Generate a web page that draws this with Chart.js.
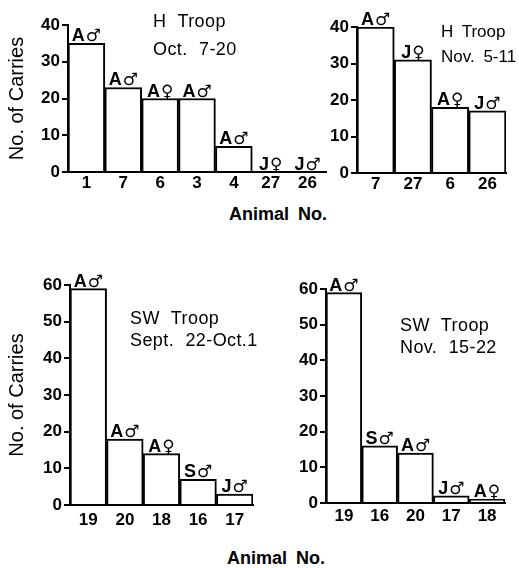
<!DOCTYPE html>
<html><head><meta charset="utf-8">
<script src="https://cdn.jsdelivr.net/npm/chart.js@4.4.1/dist/chart.umd.min.js"></script>
<style>
body{margin:0;background:#fff;width:519px;height:568px;position:relative;overflow:hidden;font-family:"Liberation Sans",Arial,sans-serif;color:#000}
canvas{position:absolute}
.t{position:absolute;font-size:18px;white-space:nowrap;word-spacing:6px;letter-spacing:0.4px}
.ax{position:absolute;font-size:18px;font-weight:bold;line-height:19px;white-space:nowrap;word-spacing:4px}
</style></head><body>
<canvas id="c1" width="340" height="200" style="left:0;top:0"></canvas>
<canvas id="c2" width="199" height="200" style="left:320px;top:0"></canvas>
<canvas id="c3" width="270" height="300" style="left:0;top:240px"></canvas>
<canvas id="c4" width="239" height="300" style="left:280px;top:240px"></canvas>
<div class="t" style="left:153px;top:8px;line-height:27.5px">H Troop<br>Oct. 7-20</div>
<div class="t" style="left:441px;top:19px;line-height:25px;font-size:17px;word-spacing:4px;letter-spacing:0">H Troop<br>Nov. 5-11</div>
<div class="t" style="left:130px;top:307px;line-height:22px">SW Troop<br>Sept. 22-Oct.1</div>
<div class="t" style="left:400px;top:314px;line-height:22px">SW Troop<br>Nov. 15-22</div>
<div class="ax" style="left:229px;top:205px">Animal No.</div>
<div class="ax" style="left:227px;top:549px">Animal No.</div>
<script>
// ---- data ----
const hOctAnimals = ['1','7','6','3','4','27','26'];
const hOctCarries = [35, 23, 20, 20, 7, 0, 0];
const hOctClass   = ['A♂','A♂','A♀','A♂','A♂','J♀','J♂'];

const hNovAnimals = ['7','27','6','26'];
const hNovCarries = [40, 31, 18, 17];
const hNovClass   = ['A♂','J♀','A♀','J♂'];

const swSepAnimals = ['19','20','18','16','17'];
const swSepCarries = [59, 18, 14, 7, 3];
const swSepClass   = ['A♂','A♂','A♀','S♂','J♂'];

const swNovAnimals = ['19','16','20','17','18'];
const swNovCarries = [59, 16, 14, 2, 1];
const swNovClass   = ['A♂','S♂','A♂','J♂','A♀'];

const yTicksH  = [0, 10, 20, 30, 40];
const yTicksSW = [0, 10, 20, 30, 40, 50, 60];
const yTitle = 'No. of Carries';
// --------------

const FONT = '"Liberation Sans", Arial, sans-serif';
const SYMFONT = '"DejaVu Sans", sans-serif';

const barLabels = {
  id: 'barLabels',
  afterDatasetsDraw(chart) {
    const labels = chart.options.plugins.barLabels.labels;
    const ctx = chart.ctx;
    const meta = chart.getDatasetMeta(0);
    ctx.save();
    ctx.fillStyle = '#000';
    ctx.textAlign = 'left';
    ctx.textBaseline = 'alphabetic';
    const fL = 'bold 18px ' + FONT, fS = '17px ' + SYMFONT;
    meta.data.forEach((bar, i) => {
      const letter = labels[i].slice(0, 1), sym = labels[i].slice(1);
      ctx.font = fL; const wL = ctx.measureText(letter).width;
      ctx.font = fS; const wS = ctx.measureText(sym).width;
      const gap = 1;
      let x = bar.x - (wL + gap + wS) / 2;
      const y = bar.y - 2;
      ctx.font = fL; ctx.fillText(letter, x, y);
      ctx.font = fS; ctx.fillText(sym, x + wL + gap, y);
    });
    ctx.restore();
  }
};

function makeChart(id, cats, vals, cls, ticks, g) {
  const yMax = ticks[ticks.length - 1];
  new Chart(document.getElementById(id), {
    type: 'bar',
    data: {
      labels: cats,
      datasets: [{
        data: vals,
        backgroundColor: '#fff',
        borderColor: '#000',
        borderWidth: {top: 2, left: 2, right: 2, bottom: 0},
        borderSkipped: false,
        barPercentage: 1,
        categoryPercentage: 1
      }]
    },
    plugins: [barLabels],
    options: {
      responsive: false,
      animation: false,
      devicePixelRatio: 1,
      layout: {padding: {left: 0, top: g.top, right: g.right, bottom: 0}},
      plugins: {
        legend: {display: false},
        tooltip: {enabled: false},
        barLabels: {labels: cls}
      },
      scales: {
        x: {
          type: 'category',
          offset: true,
          grid: {display: false, drawTicks: false, tickLength: 0},
          border: {display: true, color: '#000', width: 2},
          ticks: {color: '#000', font: {family: FONT, size: 17, weight: 'bold'}, padding: g.xPad, maxRotation: 0, autoSkip: false},
          afterFit(s) { s.height = g.xH; }
        },
        y: {
          min: 0,
          max: yMax,
          afterBuildTicks(s) { s.ticks = ticks.map(v => ({value: v})); },
          grid: {display: true, drawOnChartArea: false, drawTicks: true, tickLength: 6, color: '#000', lineWidth: 2},
          border: {display: true, color: '#000', width: 2},
          ticks: {color: '#000', font: {family: FONT, size: 17, weight: 'bold'}, padding: 2},
          title: {display: !!g.title, text: yTitle, color: '#000', font: {family: FONT, size: 20}, padding: {top: 5, bottom: 0}},
          afterFit(s) { s.width = g.yW; }
        }
      }
    }
  });
}

makeChart('c1', hOctAnimals, hOctCarries, hOctClass, yTicksH, {top: 25, right: 14, xH: 28, yW: 68, xPad: 1, title: true});
makeChart('c2', hNovAnimals, hNovCarries, hNovClass, yTicksH, {top: 27, right: 13, xH: 27, yW: 37, xPad: 1, title: false});
makeChart('c3', swSepAnimals, swSepCarries, swSepClass, yTicksSW, {top: 45, right: 17, xH: 35, yW: 70, xPad: 5, title: true});
makeChart('c4', swNovAnimals, swNovCarries, swNovClass, yTicksSW, {top: 49, right: 14, xH: 37, yW: 46, xPad: 3.5, title: false});
</script>
</body></html>
